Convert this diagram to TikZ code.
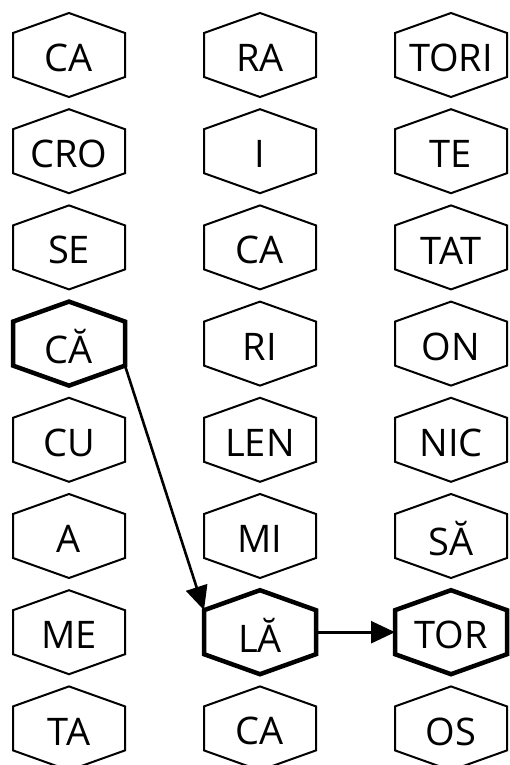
\documentclass[tikz,border=0pt]{standalone}
\usepackage{fontspec}
\setmainfont{Open Sans}
\usetikzlibrary{arrows.meta}
\tikzset{
  hexthin/.style={draw=black,line width=2pt,line join=miter},
  hexbold/.style={draw=black,line width=4.5pt,line join=miter},
  hextext/.style={font=\fontsize{38}{42}\selectfont,inner sep=0pt,anchor=center},
  conn/.style={draw=black,line width=2.6pt,-{Triangle[length=24pt,width=22pt]}}
}
\newcommand\hexbox[5]{%
  \draw[#5] (#2-56,#3-22) -- (#2,#3-42) -- (#2+56,#3-22) -- (#2+56,#3+22) -- (#2,#3+42) -- (#2-56,#3+22) -- cycle;
  \node[hextext] (#1) at (#2,#3+3) {#4};
  \coordinate (#1-tl) at (#2-56,#3-22);
  \coordinate (#1-br) at (#2+56,#3+22);
  \coordinate (#1-l) at (#2-56,#3);
  \coordinate (#1-r) at (#2+56,#3);
}
\begin{document}
\begin{tikzpicture}[x=1pt,y=-1pt]
\useasboundingbox (0,0) rectangle (510,765);
% column 1
\hexbox{a1}{69}{55}{CA}{hexthin}
\hexbox{a2}{69}{151.2}{CRO}{hexthin}
\hexbox{a3}{69}{247.4}{SE}{hexthin}
\hexbox{a4}{69}{343.6}{CĂ}{hexbold}
\hexbox{a5}{69}{439.8}{CU}{hexthin}
\hexbox{a6}{69}{536}{A}{hexthin}
\hexbox{a7}{69}{632.2}{ME}{hexthin}
\hexbox{a8}{69}{728.4}{TA}{hexthin}
% column 2
\hexbox{b1}{260}{55}{RA}{hexthin}
\hexbox{b2}{260}{151.2}{I}{hexthin}
\hexbox{b3}{260}{247.4}{CA}{hexthin}
\hexbox{b4}{260}{343.6}{RI}{hexthin}
\hexbox{b5}{260}{439.8}{LEN}{hexthin}
\hexbox{b6}{260}{536}{MI}{hexthin}
\hexbox{b7}{260}{632.2}{LĂ}{hexbold}
\hexbox{b8}{260}{728.4}{CA}{hexthin}
% column 3
\hexbox{c1}{451}{55}{TORI}{hexthin}
\hexbox{c2}{451}{151.2}{TE}{hexthin}
\hexbox{c3}{451}{247.4}{TAT}{hexthin}
\hexbox{c4}{451}{343.6}{ON}{hexthin}
\hexbox{c5}{451}{439.8}{NIC}{hexthin}
\hexbox{c6}{451}{536}{SĂ}{hexthin}
\hexbox{c7}{451}{632.2}{TOR}{hexbold}
\hexbox{c8}{451}{728.4}{OS}{hexthin}
% connectors
\draw[conn] (a4-br) -- (b7-tl);
\draw[conn] (b7-r) -- (c7-l);
\end{tikzpicture}
\end{document}
